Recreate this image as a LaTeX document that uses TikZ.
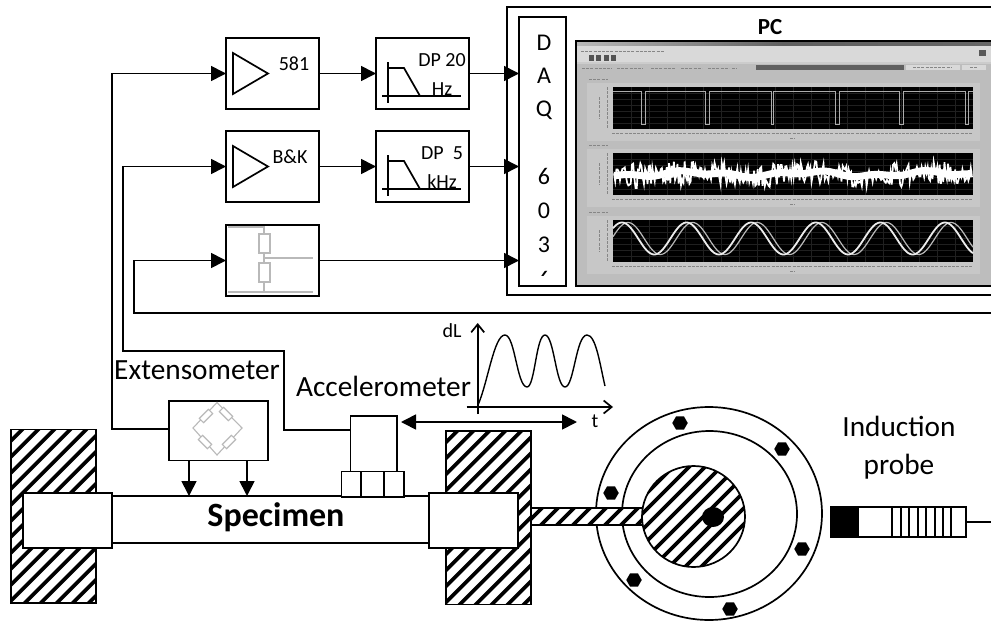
\documentclass[tikz,border=0pt]{standalone}
\usepackage{fontspec}
\setmainfont{Carlito}
\usepackage{xcolor}
\usetikzlibrary{
    arrows.meta,
    shapes.geometric,
    positioning,
    calc
}

\begin{document}
\begin{tikzpicture}[
  x=1pt, y=-1pt,
  line width=1.7pt,
  box/.style={rectangle, draw=black, fill=white, inner sep=0pt, outer sep=0pt},
  signbox/.style={box, minimum width=93pt, minimum height=71pt},
  grip/.style={box, minimum width=89pt, minimum height=55pt},
  foot/.style={box, minimum height=25.5pt},
  hatch/.style={box, path picture={
    \foreach \i in {-250,-234,...,50}
      \draw[line width=3.8pt] ([shift={(\i,100)}]path picture bounding box.center) -- ++(200,-200);}},
  disc/.style={ellipse, draw=black, inner sep=0pt, outer sep=0pt},
  bolt/.style={regular polygon, regular polygon sides=6, fill=black,
    minimum size=15.5pt, inner sep=0pt},
  arr/.style={-{Triangle[length=15pt,width=15pt]}},
  barb/.style={-{Straight Barb[length=8pt,width=13pt]}},
  ghost/.style={draw=gray!55, line width=1.1pt},
  ghostres/.style={rectangle, draw=gray!55, fill=white, line width=1.1pt,
    inner sep=0pt, outer sep=0pt},
  lblbig/.style={font=\fontsize{29.3}{33}\selectfont, inner sep=0pt},
  lblmid/.style={font=\fontsize{24}{27}\selectfont, inner sep=0pt},
  lblsmall/.style={font=\fontsize{20}{23}\selectfont, inner sep=0pt},
  scribble/.style={draw=gray!95, line width=1pt, dash pattern=on 3pt off 1.2pt}
]
\clip (0,0) rectangle (991,621);

%% ── Signal chain ─────────────────────────────────────────────────────────────
\node[signbox] (amp581) at (272.5,73.5) {};
\node[signbox, below=22pt of amp581] (ampbk) {};
\node[signbox, below=23pt of ampbk] (divider) {};
\node[signbox, right=57pt of amp581] (filt20) {};
\node[signbox, right=57pt of ampbk] (filt5) {};

\foreach \n in {amp581,ampbk}
  \draw ([shift={(-39.5,-20.5)}]\n.center) -- ([shift={(-4.5,0)}]\n.center)
        -- ([shift={(-39.5,20.5)}]\n.center) -- cycle;
\foreach \n in {filt20,filt5} {
  \draw ([shift={(-34.5,-11.5)}]\n.center) -- ([shift={(-34.5,29.5)}]\n.center);
  \draw[line width=1.2pt] ([shift={(-40.5,22.5)}]\n.center) -- ([shift={(38.5,22.5)}]\n.center);
  \draw ([shift={(-34.5,-5.5)}]\n.center) -- ([shift={(-18.5,-5.5)}]\n.center)
        -- ([shift={(-2.5,22.5)}]\n.center);
}

\node[lblsmall] (t581) at (294,64) {581};
\node[lblsmall] (tbk) at (290,157) {B\&K};
\node[lblsmall] (tdp20) at (442,60) {DP 20};
\node[lblsmall] (thz) at (442,89) {Hz};
\node[lblsmall] (tdp5) at (442,153) {DP\hspace{9pt}5};
\node[lblsmall] (tkhz) at (442,182) {kHz};

%% divider symbol
\draw[ghost] (divider.north west) ++(2,2) -- ++(36,0) -- ++(0,65) ++(0,-34) -- ++(49,0);
\draw[ghost] (divider.south west) ++(2,-4) -- ++(85,0);
\node[ghostres, minimum width=11pt, minimum height=19pt] (rone) at (264.5,243.5) {};
\node[ghostres, minimum width=11pt, minimum height=19pt] (rtwo) at (264.5,272.5) {};

%% ── PC ───────────────────────────────────────────────────────────────────────
\node[box, minimum width=520pt, minimum height=288pt] (pc) at (767,151) {};
\node[font=\fontsize{23}{27}\selectfont\bfseries, inner sep=0pt] (pclbl) at (770,27) {PC};

\node[box, line width=2pt, minimum width=47pt, minimum height=269pt] (daq) at (542.5,151.5) {};
\foreach \y/\c in {43/D,76/A,110/Q,176/6,211/0,245/3}
  \node[lblmid] (daq\c) at (544,\y) {\c};
\begin{scope}
  \clip (520,262) rectangle (565,275.5);
  \node[lblmid] (daqlast) at (544,279) {6};
\end{scope}

%% screen
\node[box, fill=gray!52, line width=2pt, minimum width=440pt, minimum height=245pt] (screen) at (796,163.5) {};
\fill[left color=gray!55, right color=gray!80!black, middle color=gray!75!black] (577,42) rectangle (991,46);
\fill[gray!30] (577,46) rectangle (991,62);
\fill[gray!40] (577,62) rectangle (991,64);
\draw[scribble] (581,51) -- (664,51);
\foreach \x in {591,598,606,613} \fill[gray!65!black] (\x-2.5,55) rectangle (\x+2.5,61);
\draw[scribble] (582,68) -- (612,68);
\draw[scribble] (617,68) -- (643,68);
\draw[scribble] (651,68) -- (676,68);
\draw[scribble] (681,68) -- (702,68);
\draw[scribble] (708,68) -- (729,68);
\draw[scribble] (732,68) -- (737,68);
\fill[gray!75!black] (756,65) rectangle (904,70);
\fill[gray!30] (906,65) rectangle (960,70);
\fill[gray!30] (962,65) rectangle (986,70);
\draw[scribble] (913,67.5) -- (952,67.5);
\draw[scribble] (970,67.5) -- (978,67.5);
\fill[gray!70!black] (979,50) rectangle (986,56);

\foreach \py in {87,153,220} {
  \fill[gray!44] (587,\py-4) rectangle (980,\py+54);
  \fill[black] (613,\py) rectangle (973,\py+41.5);
  \foreach \gx in {631,649,...,970}
    \draw[gray!25!black, line width=0.4pt] (\gx,\py) -- (\gx,\py+41.5);
  \foreach \gy in {6,12,...,40}
    \draw[gray!25!black, line width=0.4pt] (613,\py+\gy) -- (973,\py+\gy);
  \draw[scribble] (612,\py+46) -- (972,\py+46);
  \draw[scribble] (790,\py+51) -- (795,\py+51);
  \draw[scribble] (607,\py) -- (607,\py+41);
  \draw[scribble] (599,\py+10) -- (599,\py+32);
  \draw[scribble] (589,\py-8) -- (608,\py-8);
}

%% trace 1
\draw[gray!65, line width=1pt] (613,91.5) -- (641,91.5) -- (641,124) -- (645,124) -- (645,91.5)
  -- (705,91.5) -- (705,124) -- (709,124) -- (709,91.5) -- (771,91.5) -- (771,124) -- (773,124) -- (773,91.5)
  -- (835,91.5) -- (835,124) -- (839,124) -- (839,91.5) -- (899,91.5) -- (899,124) -- (903,124) -- (903,91.5)
  -- (965,91.5) -- (965,124) -- (968,124) -- (968,91.5) -- (973,91.5);

%% trace 2
\pgfmathsetseed{17}
\draw[white, line width=7pt] plot[domain=614:972, samples=120]
  (\x, {174+2*sin(3*\x)+1.5*sin(7.3*\x)});
\draw[white, line width=1.7pt] plot[domain=614:972, samples=300]
  (\x, {174+2*sin(3*\x)+(2*rnd-1)*(6+7*abs(sin(4.1*\x)))});

%% trace 3
\draw[gray!55, line width=1.2pt] plot[domain=613:973, samples=240]
  (\x, {238.5-16*cos(5.5728*(\x-628))});
\draw[gray!15, line width=1.8pt] plot[domain=613:973, samples=240]
  (\x, {238.5-16*cos(5.5728*(\x-622))});

%% ── Rig ──────────────────────────────────────────────────────────────────────
\node[hatch, minimum width=85pt, minimum height=173.5pt] (blockl) at (53.5,516.25) {};
\node[hatch, minimum width=85pt, minimum height=173.5pt] (blockr) at (488.5,517.75) {};
\node[box, minimum width=317pt, minimum height=47pt] (specimen) at (270.5,519.5) {};
\node[grip] (gripl) at (67.5,520.5) {};
\node[grip] (gripr) at (473.5,520.5) {};
\node[font=\fontsize{34}{38}\selectfont\bfseries, inner sep=0pt] (speclbl) at (276,517) {Specimen};

\node[box, minimum width=99pt, minimum height=59.5pt] (extbox) at (218.5,430.75) {};
\draw[ghost] (217,402.5) -- (242,428) -- (217,455) -- (193,428) -- cycle;
\foreach \px/\py/\ang in {226/414/-45,206/416/45,229/442/45,205/442/-45}
  \node[ghostres, minimum width=13pt, minimum height=6pt, rotate=\ang] (res\px) at (\px,\py) {};
\node[lblbig] (extlbl) at (197,370) {Extensometer};

\node[box, minimum width=46.5pt, minimum height=55.5pt] (accel) at (373.75,443.75) {};
\node[foot, minimum width=19.5pt] (foota) at (351.3,484.25) {};
\node[foot, minimum width=22.6pt, right=0pt of foota] (footb) {};
\node[foot, minimum width=20pt, right=0pt of footb] (footc) {};
\node[lblbig] (acclbl) at (383.5,386.5) {Accelerometer};

%% connectors
\draw[arr] (extbox.west) ++(0,-2) -- ++(-57,0) |- (amp581.west);
\draw[arr] ([yshift=14pt]accel.west) -- ++(-66.5,0) -- ++(0,-78.5) -- ++(-161,0) |- (ampbk.west);
\coordinate (backend) at (991,313);
\draw[arr] (backend) -- ++(-857,0) |- (divider.west);
\draw[arr] (amp581) -- (filt20);
\draw[arr] (ampbk) -- (filt5);
\draw[arr] (filt20) -- (filt20 -| daq.west);
\draw[arr] (filt5) -- (filt5 -| daq.west);
\draw[arr] (divider) -- (divider -| daq.west);
\draw[arr] ([xshift=-29.5pt]extbox.south) -- ([xshift=-29.5pt]extbox.south |- specimen.north);
\draw[arr] ([xshift=28.5pt]extbox.south) -- ([xshift=28.5pt]extbox.south |- specimen.north);

%% ── Graph ────────────────────────────────────────────────────────────────────
\coordinate (axo) at (477.7,407);
\coordinate (axtop) at (477.7,323);
\coordinate (axright) at (613,407);
\draw[barb] ([yshift=-7pt]axo) -- (axtop);
\draw[barb] ([xshift=-11pt]axo) -- (axright);
\draw[line width=1.4pt] (478,405) .. controls (488,382) and (494,335) .. (505,335)
  .. controls (515,335) and (517,387) .. (527,387)
  .. controls (535,387) and (536,335) .. (545,335)
  .. controls (554,335) and (556,387) .. (565,387)
  .. controls (574,387) and (576,335) .. (587,335)
  .. controls (596,335) and (600,365) .. (605,386);
\node[lblsmall] (dl) at (452,331) {dL};
\node[lblsmall] (tlbl) at (595,421) {t};
\coordinate (travel) at (577,422);
\draw[{Triangle[length=15pt,width=15pt]}-{Triangle[length=15pt,width=15pt]}]
  ([yshift=21.75pt,xshift=4pt]accel.east) -- (travel);

%% ── Rotor ────────────────────────────────────────────────────────────────────
\node[disc, minimum width=226pt, minimum height=213pt] (flange) at (709,513.5) {};
\node[disc, minimum width=175pt, minimum height=166pt] (ring) at (709.5,514) {};
\node[hatch, minimum width=113pt, minimum height=17pt, anchor=west] (shaft) at (blockr.east |- 0,516.5) {};
\node[hatch, disc, minimum width=103pt, minimum height=101pt] (core) at (693.5,516.5) {};
\node[ellipse, fill=black, minimum width=22pt, minimum height=20pt, inner sep=0pt] (pin) at (713,517) {};
\foreach \bx/\by in {680/423,782/449,802/549,730/609,634/580,611/493}
  \node[bolt] (bolt\bx) at (\bx,\by) {};

%% ── Probe ────────────────────────────────────────────────────────────────────
\node[box, fill=black, minimum width=27pt, minimum height=30pt] (pblack) at (844.5,522) {};
\node[box, minimum width=34pt, minimum height=30pt, right=0pt of pblack] (pwhite) {};
\node[box, minimum width=59pt, minimum height=30pt, right=0pt of pwhite] (pcoil) {};
\node[box, minimum width=15pt, minimum height=30pt, right=0pt of pcoil] (pend) {};
\foreach \cx in {901,909,918,926,935,943}
  \draw[line width=1.2pt] (\cx,507) -- (\cx,537);
\coordinate (probeout) at (991,522);
\draw (pend) -- (probeout);
\node[lblbig] (ind) at (899,426) {Induction};
\node[lblbig] (pro) at (899,467) {probe};

\end{tikzpicture}
\end{document}
